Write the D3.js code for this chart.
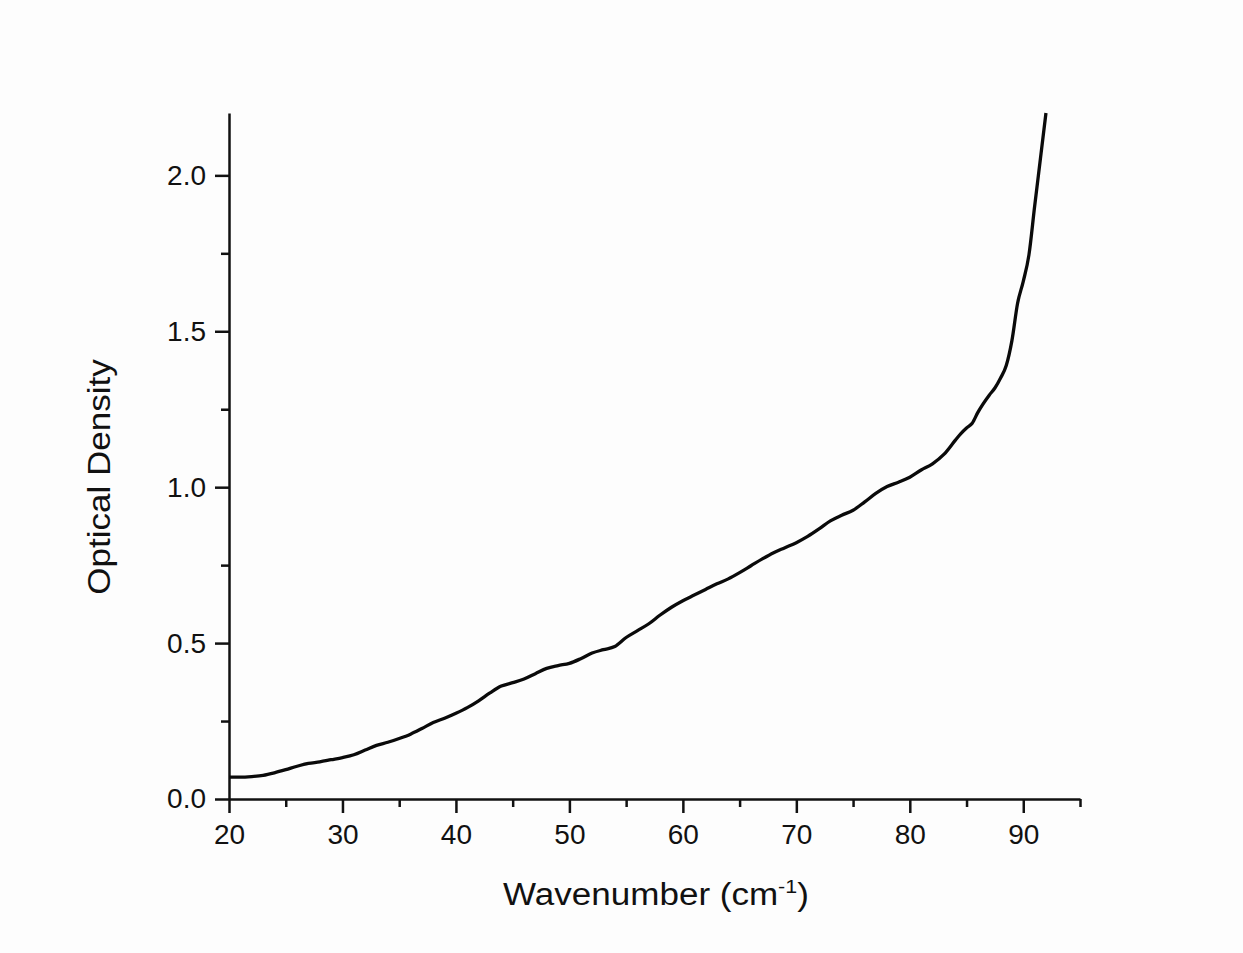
<!DOCTYPE html>
<html>
<head>
<meta charset="utf-8">
<script src="https://cdn.jsdelivr.net/npm/d3@7"></script>
<style>
  body { margin: 0; background: #fdfdfd; }
  svg { display: block; }
  text { font-family: "Liberation Sans", Arial, sans-serif; fill: #111; }
</style>
</head>
<body>
<svg id="chart"></svg>
<script>
// wavenumber (cm-1) and optical density
var wavenumber = [20, 21, 22, 23, 24, 25, 26, 27, 28, 29, 30, 31, 32, 33, 34, 35, 36, 37, 38, 39,
    40, 41, 42, 43, 44, 45, 46, 47, 48, 49, 50, 51, 52, 53, 54, 55, 56, 57, 58, 59,
    60, 61, 62, 63, 64, 65, 66, 67, 68, 69, 70, 71, 72, 73, 74, 75, 76, 77, 78, 79,
    80, 81, 82, 83, 84, 84.5, 85, 85.5, 86, 87, 87.5, 88, 88.5, 89, 89.5, 90, 90.5, 91, 91.5, 92];
var density = [0.070, 0.070, 0.072, 0.076, 0.084, 0.094, 0.105, 0.114, 0.119, 0.126, 0.133, 0.142, 0.157, 0.172, 0.182, 0.194, 0.208, 0.226, 0.245, 0.259,
    0.275, 0.293, 0.315, 0.340, 0.362, 0.373, 0.385, 0.402, 0.419, 0.428, 0.435, 0.450, 0.468, 0.479, 0.489, 0.518, 0.540, 0.562, 0.590, 0.615,
    0.636, 0.654, 0.672, 0.690, 0.706, 0.726, 0.748, 0.770, 0.790, 0.806, 0.822, 0.842, 0.866, 0.892, 0.910, 0.926, 0.952, 0.980, 1.002, 1.016,
    1.032, 1.055, 1.075, 1.105, 1.150, 1.172, 1.190, 1.205, 1.240, 1.295, 1.318, 1.350, 1.390, 1.470, 1.590, 1.660, 1.745, 1.900, 2.050, 2.200];

var xTicks = [20, 30, 40, 50, 60, 70, 80, 90];
var yTicks = [0.0, 0.5, 1.0, 1.5, 2.0];

var W = 1243, H = 953;
var margin = {top: 113, right: 163, bottom: 154, left: 229};
var width = W - margin.left - margin.right,
    height = H - margin.top - margin.bottom;

var svg = d3.select("#chart").attr("width", W).attr("height", H);
svg.append("rect").attr("width", W).attr("height", H).attr("fill", "#fdfdfd");

var g = svg.append("g").attr("transform", "translate(" + margin.left + "," + margin.top + ")");

var x = d3.scaleLinear().domain([20, 95]).range([0, width]);
var y = d3.scaleLinear().domain([0, 2.2]).range([height, 0]);

// minor ticks first, then major on top
var xMinor = d3.range(25, 96, 10);
var yMinor = d3.range(0.25, 2.2, 0.5);

g.append("g").attr("transform", "translate(0," + height + ")")
    .call(d3.axisBottom(x).tickValues(xMinor).tickSize(8).tickFormat(""))
    .call(function (a) { a.select(".domain").remove(); });
g.append("g")
    .call(d3.axisLeft(y).tickValues(yMinor).tickSize(8).tickFormat(""))
    .call(function (a) { a.select(".domain").remove(); });

var xAxis = g.append("g").attr("transform", "translate(0," + height + ")")
    .call(d3.axisBottom(x).tickValues(xTicks).tickSize(14).tickSizeOuter(0).tickPadding(11).tickFormat(d3.format("d")));
var yAxis = g.append("g")
    .call(d3.axisLeft(y).tickValues(yTicks).tickSize(14).tickSizeOuter(0).tickPadding(9).tickFormat(d3.format(".1f")));

g.selectAll(".tick line").attr("stroke", "#111").attr("stroke-width", 2.5);
g.selectAll(".domain").attr("stroke", "#111").attr("stroke-width", 2.5);
g.selectAll(".tick text").attr("font-size", "28px").attr("fill", "#111");

var data = wavenumber.map(function (d, i) { return [d, density[i]]; });

g.append("path")
    .datum(data)
    .attr("fill", "none")
    .attr("stroke", "#0a0a0a")
    .attr("stroke-width", 3.3)
    .attr("stroke-linejoin", "round")
    .attr("d", d3.line().x(function (d) { return x(d[0]); }).y(function (d) { return y(d[1]); }).curve(d3.curveMonotoneX));

// axis titles (slightly wide glyphs in the original)
var xt = svg.append("text")
    .attr("transform", "translate(656,905) scale(1.13,1)")
    .attr("text-anchor", "middle")
    .attr("font-size", "31px");
xt.append("tspan").text("Wavenumber (cm");
xt.append("tspan").attr("dy", -12).attr("font-size", "19px").text("-1");
xt.append("tspan").attr("dy", 12).text(")");

svg.append("text")
    .attr("transform", "translate(110,477) rotate(-90) scale(1.13,1)")
    .attr("text-anchor", "middle")
    .attr("font-size", "31px")
    .text("Optical Density");
</script>
</body>
</html>
